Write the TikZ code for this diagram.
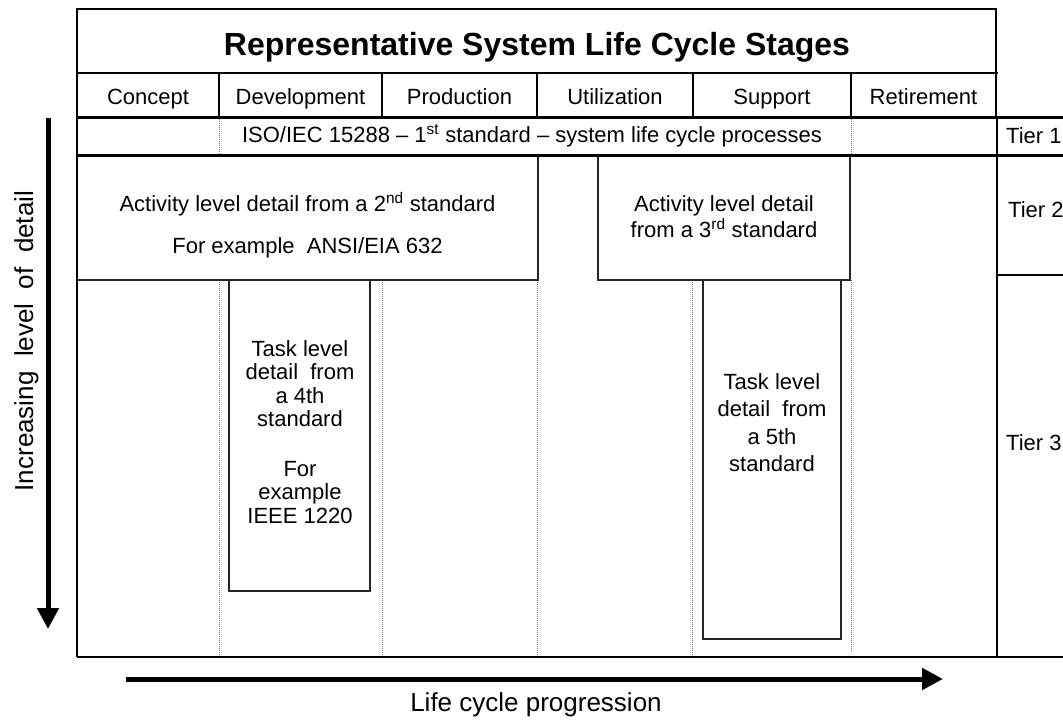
\documentclass[tikz,border=0pt]{standalone}
\usepackage{fontspec}
\setmainfont{Liberation Sans}
\usetikzlibrary{arrows.meta}
\begin{document}
\begin{tikzpicture}[x=1pt,y=-1pt,
  txt/.style={font=\fontsize{22}{24}\selectfont, inner sep=0pt, anchor=base},
  axislabel/.style={font=\fontsize{26}{28}\selectfont, inner sep=0pt, anchor=base},
  titletxt/.style={font=\bfseries\fontsize{32}{36}\selectfont, inner sep=0pt, anchor=base},
  tiertxt/.style={font=\fontsize{22}{24}\selectfont, inner sep=0pt, anchor=base west},
  frameline/.style={line width=1.5pt, black},
  thickline/.style={line width=3pt, black},
  tierline/.style={line width=2pt, black},
  boxnode/.style={draw=black!85, line width=1.3pt, fill=white, inner sep=0pt},
  dotline/.style={draw=black!55, line width=0.8pt, dash pattern=on 0.8pt off 1.2pt},
  bigarrow/.style={line width=5pt, -{Triangle[length=21pt,width=21pt]}},
]
\useasboundingbox (0,0) rectangle (1063,720);

% dotted column guides
\draw[dotline] (219,117) -- (219,155);
\draw[dotline] (851,117) -- (851,155);
\foreach \xx in {219,382,537,692} {\draw[dotline] (\xx,280) -- (\xx,657);}
\draw[dotline] (851,280) -- (851,652);

% activity boxes
\node[boxnode, minimum width=461pt, minimum height=125pt] (act1) at (307.5,217.5) {};
\node[boxnode, minimum width=252pt, minimum height=125pt] (act2) at (724,217.5) {};
% task boxes
\node[boxnode, minimum width=141pt, minimum height=311pt] (task1) at (299.5,435.5) {};
\node[boxnode, minimum width=138pt, minimum height=359pt] (task2) at (772,459.5) {};

% frame lines
\draw[frameline] (77,657) -- (77,9) -- (996,9) -- (996,117);
\draw[frameline] (77,73) -- (998,73);
\draw[thickline] (77,117) -- (1063,117);
\draw[thickline] (77,155) -- (1063,155);
\draw[frameline] (77,657) -- (1063,657);
\draw[tierline] (997,117) -- (997,657);
\draw[tierline] (997,275) -- (1063,275);
\foreach \xx in {219,382,537,693,851} {\draw[frameline] (\xx,73) -- (\xx,117);}

% title and stages
\node[titletxt] (title) at (537,55) {Representative System Life Cycle Stages};
\node[txt] (s1) at (148,104) {Concept};
\node[txt] (s2) at (300.5,104) {Development};
\node[txt] (s3) at (459.5,104) {Production};
\node[txt] (s4) at (615,104) {Utilization};
\node[txt] (s5) at (772,104) {Support};
\node[txt] (s6) at (923.5,104) {Retirement};

\node[txt] (iso) at (532,142) {ISO/IEC 15288 -- 1\textsuperscript{st} standard -- system life cycle processes};

% tiers
\node[tiertxt] (t1) at (1006,143) {Tier 1};
\node[tiertxt] (t2) at (1008,217) {Tier 2};
\node[tiertxt] (t3) at (1006,450) {Tier 3};

% activity texts
\node[txt] (a1l1) at (307.5,211) {Activity level detail from a 2\textsuperscript{nd} standard};
\node[txt] (a1l2) at (307.5,253) {For example\ \ ANSI/EIA 632};
\node[txt] (a2l1) at (724,211) {Activity level detail};
\node[txt] (a2l2) at (724,237) {from a 3\textsuperscript{rd} standard};

% task 1 texts
\node[txt] (k1l1) at (300,356) {Task level};
\node[txt] (k1l2) at (300,379.5) {detail\ \ from};
\node[txt] (k1l3) at (300,403) {a 4th};
\node[txt] (k1l4) at (300,426.5) {standard};
\node[txt] (k1l5) at (300,476) {For};
\node[txt] (k1l6) at (300,499.5) {example};
\node[txt] (k1l7) at (300,523) {IEEE 1220};

% task 2 texts
\node[txt] (k2l1) at (772,389) {Task level};
\node[txt] (k2l2) at (772,416.5) {detail\ \ from};
\node[txt] (k2l3) at (772,444) {a 5th};
\node[txt] (k2l4) at (772,471) {standard};

% axes
\coordinate (vA) at (48,118);
\coordinate (vB) at (48,629);
\draw[bigarrow] (vA) -- (vB);
\node[axislabel, rotate=90] (ylab) at (33,341) {Increasing\ \ level\ \ of\ \ detail};

\coordinate (hA) at (126,679);
\coordinate (hB) at (943,679);
\draw[bigarrow] (hA) -- (hB);
\node[axislabel] (xlab) at (536,711) {Life cycle progression};
\end{tikzpicture}
\end{document}
